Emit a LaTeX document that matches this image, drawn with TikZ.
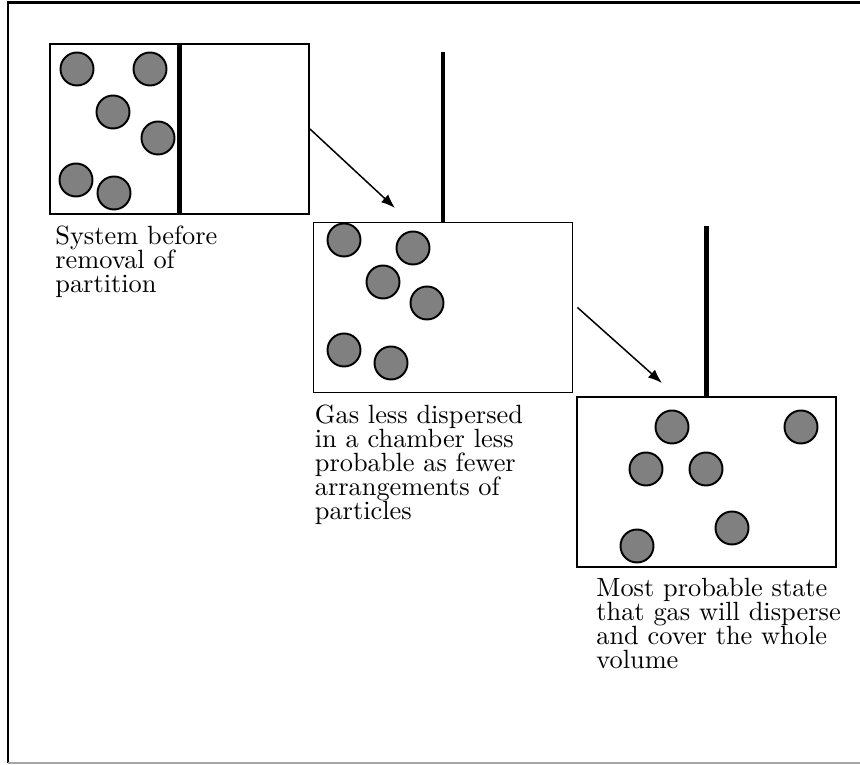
\documentclass[tikz,border=0pt]{standalone}
\usepackage{fontspec}
\setmainfont{lmroman10-regular.otf}
\usetikzlibrary{positioning,arrows.meta}
\setlength{\lineskiplimit}{-20pt}

\begin{document}
\begin{tikzpicture}[
  chamber/.style={rectangle,draw,line width=1.1pt,minimum width=5.18cm,minimum height=3.4cm,inner sep=0pt},
  particle/.style={draw,fill=gray,line width=1.1pt},
  wall/.style={line width=2.6pt},
  caption/.style={inner sep=0pt,align=left,font=\fontsize{15}{13.66}\selectfont},
  move/.style={-{Latex[length=8pt,width=6pt]},line width=0.85pt}]
\useasboundingbox (0,0) rectangle (17.2,15.3);
% frame
\draw [line width=1.7pt] (0.16,0.04) -- (0.16,15.25) -- (17.2,15.25);
\draw [gray!70,line width=0.6pt] (0.16,0.04) -- (17.2,0.04);

% the three chambers
\node at (3.59,12.72) [chamber] (b1) {};
\node at (8.86,9.15) [chamber] (b2) {};
\node at (14.13,5.66) [chamber] (b3) {};

% partition in place, then pulled out
\draw [wall] (b1.north) -- (b1.south);
\draw [wall] (b2.north) -- ++(0,3.4);
\draw [wall] (b3.north) -- ++(0,3.4);

% gas particles
\foreach \x/\y in {1.54/13.92,3.0/13.92,2.26/13.06,3.16/12.54,1.52/11.70,2.28/11.44}
  \draw [particle] (\x,\y) circle (0.33);
\foreach \x/\y in {6.88/10.5,8.26/10.34,7.66/9.66,8.54/9.24,6.88/8.3,7.82/8.04}
  \draw [particle] (\x,\y) circle (0.33);
\foreach \x/\y in {13.44/6.76,16.02/6.76,12.92/5.92,14.12/5.92,14.64/4.74,12.74/4.38}
  \draw [particle] (\x,\y) circle (0.33);

% captions
\node [caption,below right=0.22cm and 0.12cm of b1.south west] (t1) {System before\\removal of\\partition};
\node [caption,below right=0.23cm and 0.04cm of b2.south west] (t2) {Gas less dispersed\\in a chamber less\\probable as fewer\\arrangements of\\particles};
\node [caption,below right=0.19cm and 0.40cm of b3.south west] (t3) {Most probable state\\that gas will disperse\\and cover the whole\\volume};

% arrows
\coordinate (e1) at (7.9,11.14);
\coordinate (e2) at (13.24,7.64);
\draw [move] (b1.east) -- (e1);
\draw [move] ([xshift=0.08cm]b2.east) -- (e2);
\end{tikzpicture}
\end{document}
